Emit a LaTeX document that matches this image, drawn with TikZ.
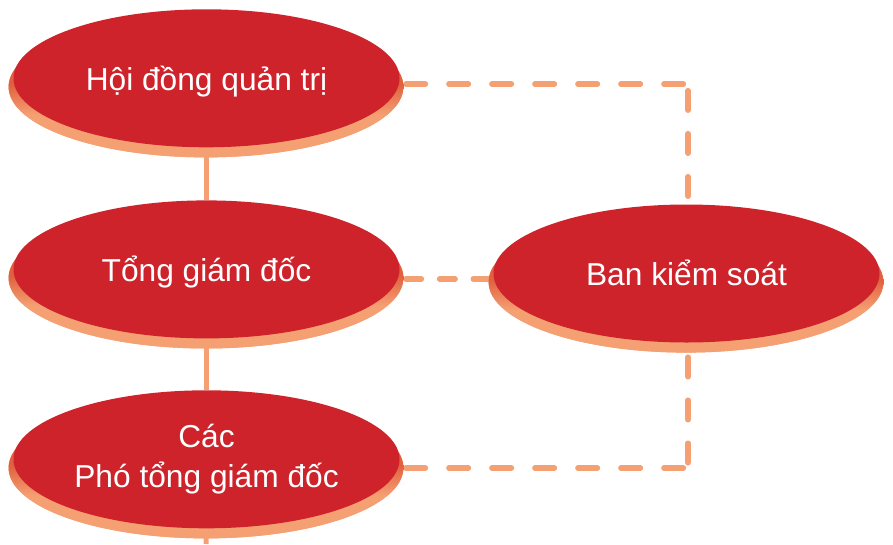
\documentclass[tikz,border=0pt]{standalone}
\usepackage{fontspec}
\setmainfont{Liberation Sans}
\usetikzlibrary{shapes.geometric,shadows,backgrounds}
\definecolor{boxred}{HTML}{CF232B}
\definecolor{salmon}{HTML}{F5A073}
\definecolor{shadowdark}{HTML}{E0603F}
\pgfdeclareverticalshading{shadowshade}{100bp}{color(0bp)=(salmon); color(40bp)=(salmon); color(51bp)=(shadowdark); color(100bp)=(shadowdark)}
\begin{document}
\begin{tikzpicture}[x=1pt,y=-1pt,
  org/.style={ellipse, fill=boxred, text=white, minimum width=386pt, minimum height=138pt,
    inner sep=0pt, align=center, font=\fontsize{31.7}{40}\selectfont,
    drop shadow={shadow xshift=-0.5pt, shadow yshift=-8.3pt, shadow scale=1.023, opacity=1,
      fill=salmon, shade, shading=shadowshade}},
  oneline/.style={text height=31pt, text depth=7pt},
  solidline/.style={draw=salmon, line width=5pt},
  dashA/.style={draw=salmon, line width=5.5pt, line cap=round, dash pattern=on 19.5pt off 23.5pt},
  dashB/.style={draw=salmon, line width=5.5pt, line cap=round, dash pattern=on 15.5pt off 18.2pt}]
\useasboundingbox (0,0) rectangle (893,544);

\node[org, oneline] (n1) at (206.5,78.3) {Hội đồng quản trị};
\node[org, oneline] (n2) at (206.5,269.4) {Tổng giám đốc};
\node[org] (n3) at (206.5,459.3) {Các\\Phó tổng giám đốc};
\node[org, oneline] (nb) at (686.5,273.5) {Ban kiểm soát};

\coordinate (k1) at (688,84);
\coordinate (k2) at (688,468);
\coordinate (m) at (450,279);
\coordinate (bot) at (206,544);

\begin{scope}[on background layer]
  \draw[solidline] (n1.south) -- (n2.north);
  \draw[solidline] (n2.south) -- (n3.north);
  \draw[solidline] (n3.south) -- (bot);
  \draw[dashA] ([xshift=6.2pt]n1.east |- k1) -- (k1);
  \draw[dashA] ([yshift=-6.7pt]k1) -- (k1 |- nb.north);
  \draw[dashB] ([xshift=6.2pt]n2.east |- m) -- (nb.west |- m);
  \draw[dashA] ([yshift=-14.5pt]nb.south -| k2) -- (k2);
  \draw[dashA] ([xshift=6.2pt]n3.east |- k2) -- (k2);
\end{scope}
\end{tikzpicture}
\end{document}
